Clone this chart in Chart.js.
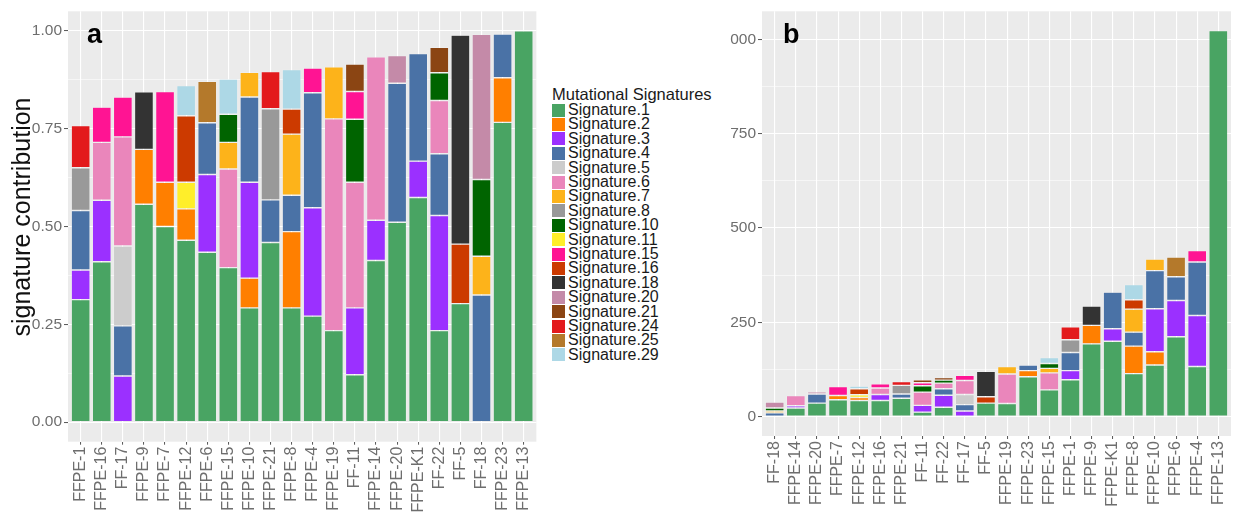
<!DOCTYPE html>
<html>
<head>
<meta charset="utf-8">
<script src="https://cdn.jsdelivr.net/npm/chart.js@4/dist/chart.umd.min.js"></script>
<style>
  html, body { margin: 0; padding: 0; background: #ffffff; }
  body { width: 1241px; height: 516px; position: relative; overflow: hidden;
         font-family: "Liberation Sans", Arial, sans-serif; }
  #wrapA { position: absolute; left: 0; top: 0; width: 545px; height: 516px; }
  #legend { position: absolute; left: 552px; top: 0; width: 180px; height: 516px; }
  #clipB { position: absolute; left: 730px; top: 0; width: 511px; height: 516px; overflow: hidden; }
  #wrapB { position: absolute; left: -10px; top: 0; width: 521px; height: 516px; }
  .ttl { position: absolute; left: 0; top: 86px; font-size: 16.5px; line-height: 16px; color: #1a1a1a; white-space: nowrap; }
  .key { position: absolute; left: 0; width: 13px; height: 13px; }
  .lab { position: absolute; left: 16px; font-size: 16px; line-height: 14px; color: #1a1a1a; white-space: nowrap; }
</style>
</head>
<body>
<div id="wrapA"><canvas id="chartA" width="545" height="516"></canvas></div>
<div id="legend"></div>
<div id="clipB"><div id="wrapB"><canvas id="chartB" width="521" height="516"></canvas></div></div>

<script>
// ---- samples (x-axis order of each panel) ----
const categoriesA = ['FFPE-1','FFPE-16','FF-17','FFPE-9','FFPE-7','FFPE-12','FFPE-6','FFPE-15','FFPE-10','FFPE-21','FFPE-8',
                     'FFPE-4','FFPE-19','FF-11','FFPE-14','FFPE-20','FFPE-K1','FF-22','FF-5','FF-18','FFPE-23','FFPE-13'];
const categoriesB = ['FF-18','FFPE-14','FFPE-20','FFPE-7','FFPE-12','FFPE-16','FFPE-21','FF-11','FF-22','FF-17','FF-5',
                     'FFPE-19','FFPE-23','FFPE-15','FFPE-1','FFPE-9','FFPE-K1','FFPE-8','FFPE-10','FFPE-6','FFPE-4','FFPE-13'];

// ---- signatures and their fill colours ----
const signatures = ['Signature.1','Signature.2','Signature.3','Signature.4','Signature.5','Signature.6','Signature.7','Signature.8',
                    'Signature.10','Signature.11','Signature.15','Signature.16','Signature.18','Signature.20','Signature.21',
                    'Signature.24','Signature.25','Signature.29'];
const sigColours = ['#49a463','#ff7f00','#9b30ff','#4a72a6','#cccccc','#ea86bb','#fdb31a','#999999',
                    '#006400','#ffee2a','#ff1493','#cc3a00','#333333','#c48aa8','#8b4513',
                    '#e31a1c','#b4792b','#add8e6'];

// ---- panel a: relative contribution of each signature ----
const a_s1  = [0.313,0.410,null,0.557,0.500, 0.465,0.434,0.395,0.292,0.459, 0.292,0.271,0.234,0.121,0.413, 0.511,0.574,0.234,0.303,null, 0.766,1.000];
const a_s2  = [null,null,null,0.140,0.113, 0.080,null,null,0.076,null, 0.195,null,null,null,null, null,null,null,null,null, 0.114,null];
const a_s3  = [0.076,0.157,0.118,null,null, null,0.199,null,0.245,null, null,0.277,null,0.171,0.103, null,0.093,0.294,null,null, null,null];
const a_s4  = [0.152,null,0.128,null,null, null,0.132,null,0.218,0.109, 0.093,0.294,null,null,null, 0.355,0.275,0.158,null,0.325, 0.112,null];
const a_s5  = [null,null,0.204,null,null, null,null,null,null,null, null,null,null,null,null, null,null,null,null,null, null,null];
const a_s6  = [null,0.148,0.279,null,null, null,null,0.252,null,null, null,null,0.541,0.321,0.418, null,null,0.136,null,null, null,null];
const a_s7  = [null,null,null,null,null, null,null,0.068,0.063,null, 0.156,null,0.133,null,null, null,null,null,null,0.099, null,null];
const a_s8  = [0.109,null,null,null,null, null,null,null,null,0.233, null,null,null,null,null, null,null,null,null,null, null,null];
const a_s10 = [null,null,null,null,null, null,null,0.072,null,null, null,null,null,0.161,null, null,null,0.071,null,0.196, null,null];
const a_s11 = [null,null,null,null,null, 0.068,null,null,null,null, null,null,null,null,null, null,null,null,null,null, null,null];
const a_s15 = [null,0.090,0.102,null,0.232, null,null,null,null,null, null,0.063,null,0.071,null, null,null,null,null,null, null,null];
const a_s16 = [null,null,null,null,null, 0.170,null,null,null,null, 0.064,null,null,null,null, null,null,null,0.152,null, null,null];
const a_s18 = [null,null,null,0.147,null, null,null,null,null,null, null,null,null,null,null, null,null,null,0.534,null, null,null];
const a_s20 = [null,null,null,null,null, null,null,null,null,null, null,null,null,null,null, 0.071,null,null,null,0.371, null,null];
const a_s21 = [null,null,null,null,null, null,null,null,null,null, null,null,null,0.070,null, null,null,0.065,null,null, null,null];
const a_s24 = [0.108,null,null,null,null, null,null,null,null,0.095, null,null,null,null,null, null,null,null,null,null, null,null];
const a_s25 = [null,null,null,null,null, null,0.106,null,null,null, null,null,null,null,null, null,null,null,null,null, null,null];
const a_s29 = [null,null,null,null,null, 0.077,null,0.090,null,null, 0.101,null,null,null,null, null,null,null,null,null, null,null];

// ---- panel b: mutation counts attributed to each signature ----
const b_s1  = [null,23,36,45,43, 43,49,12,25,null, 36,35,106,71,98, 193,200,114,137,212, 133,1023];
const b_s2  = [null,null,null,11,8, null,null,null,null,null, null,null,16,null,null, 49,null,73,35,null, null,null];
const b_s3  = [null,6,null,null,null, 16,null,18,32,15, null,null,null,null,24, null,33,null,114,96, 135,null];
const b_s4  = [10,null,24,null,null, null,11,null,17,17, null,null,15,null,48, null,97,37,101,63, 142,null];
const b_s5  = [null,null,null,null,null, null,null,null,null,27, null,null,null,null,null, null,null,null,null,null, null,null];
const b_s6  = [null,27,null,null,null, 17,null,35,15,37, null,78,null,45,null, null,null,null,null,null, null,null];
const b_s7  = [5,null,null,null,null, null,null,null,null,null, null,20,null,12,null, null,null,61,31,null, null,null];
const b_s8  = [null,null,null,null,null, null,23,null,null,null, null,null,null,null,34, null,null,null,null,null, null,null];
const b_s10 = [8,null,null,null,null, null,null,17,8,null, null,null,null,13,null, null,null,null,null,null, null,null];
const b_s11 = [null,null,null,null,7, null,null,null,null,null, null,null,null,null,null, null,null,null,null,null, null,null];
const b_s15 = [null,null,null,24,null, 11,null,8,null,14, null,null,null,null,null, null,null,null,null,null, 30,null];
const b_s16 = [null,null,null,null,16, null,null,null,null,null, 17,null,null,null,null, null,null,25,null,null, null,null];
const b_s18 = [null,null,null,null,null, null,null,null,null,null, 67,null,null,null,null, 51,null,null,null,null, null,null];
const b_s20 = [16,null,6,null,null, null,null,null,null,null, null,null,null,null,null, null,null,null,null,null, null,null];
const b_s21 = [null,null,null,null,null, null,null,8,7,null, null,null,null,null,null, null,null,null,null,null, null,null];
const b_s24 = [null,null,null,null,null, null,10,null,null,null, null,null,null,null,34, null,null,null,null,null, null,null];
const b_s25 = [null,null,null,null,null, null,null,null,null,null, null,null,null,null,null, null,null,null,null,52, null,null];
const b_s29 = [null,null,null,null,7, null,null,null,null,null, null,null,null,16,null, null,null,40,null,null, null,null];

const seriesA = [a_s1,a_s2,a_s3,a_s4,a_s5,a_s6,a_s7,a_s8,a_s10,a_s11,a_s15,a_s16,a_s18,a_s20,a_s21,a_s24,a_s25,a_s29];
const seriesB = [b_s1,b_s2,b_s3,b_s4,b_s5,b_s6,b_s7,b_s8,b_s10,b_s11,b_s15,b_s16,b_s18,b_s20,b_s21,b_s24,b_s25,b_s29];

// ---- y-axis grid and tick labels ----
const gridA = [0, 0.125, 0.25, 0.375, 0.5, 0.625, 0.75, 0.875, 1];
const ticksA = [0, 0.25, 0.5, 0.75, 1];
const tickLabelsA = ['0.00', '0.25', '0.50', '0.75', '1.00'];
const gridB = [0, 125, 250, 375, 500, 625, 750, 875, 1000];
const ticksB = [0, 250, 500, 750, 1000];
const tickLabelsB = ['0', '250', '500', '750', '1000'];

const FONT = '"Liberation Sans", Arial, sans-serif';

// grey panel background plus the panel tag and optional axis title
const panelDecor = {
  id: 'panelDecor',
  beforeDraw(chart) {
    const { ctx, chartArea: a } = chart;
    ctx.save();
    ctx.fillStyle = '#ebebeb';
    ctx.fillRect(a.left, a.top, a.right - a.left, a.bottom - a.top);
    ctx.restore();
  },
  afterDraw(chart, args, opts) {
    const ctx = chart.ctx;
    ctx.save();
    ctx.fillStyle = '#000000';
    ctx.font = 'bold 27px ' + FONT;
    ctx.textAlign = 'left';
    ctx.textBaseline = 'alphabetic';
    ctx.fillText(opts.tag, opts.tagX, opts.tagY);
    if (opts.title) {
      ctx.translate(opts.titleX, opts.titleY);
      ctx.rotate(-Math.PI / 2);
      ctx.font = '25px ' + FONT;
      ctx.fillStyle = '#111111';
      ctx.textAlign = 'center';
      ctx.textBaseline = 'middle';
      ctx.fillText(opts.title, 0, 0);
    }
    ctx.restore();
  }
};

function buildPanel(canvasId, cats, series, o) {
  const isMajor = v => o.major.indexOf(v) >= 0;
  return new Chart(document.getElementById(canvasId), {
    type: 'bar',
    data: {
      labels: cats.map((c, i) => i),
      datasets: signatures.map((name, k) => ({
        label: name,
        data: series[k],
        backgroundColor: sigColours[k],
        borderColor: 'rgba(255,255,255,0.3)',
        borderWidth: 0.7,
        borderSkipped: false,
        barPercentage: 0.9,
        categoryPercentage: 1.0
      }))
    },
    options: {
      responsive: false,
      animation: false,
      events: [],
      layout: { padding: o.padding },
      plugins: {
        legend: { display: false },
        tooltip: { enabled: false },
        panelDecor: o.decor
      },
      scales: {
        x: {
          type: 'linear',
          stacked: true,
          offset: false,
          min: -0.6,
          max: cats.length - 0.4,
          afterBuildTicks: s => { s.ticks = cats.map((c, i) => ({ value: i })); },
          afterFit: s => { s.height = o.xHeight; },
          border: { display: false },
          grid: { offset: false, color: '#ffffff', lineWidth: 1.1, tickColor: '#555555', tickLength: 3, tickWidth: 1 },
          ticks: {
            autoSkip: false, minRotation: 90, maxRotation: 90, padding: 2,
            color: '#6e6e6e', font: { family: FONT, size: 16 },
            callback: v => cats[v]
          }
        },
        y: {
          type: 'linear',
          stacked: true,
          min: o.yMin,
          max: o.yMax,
          afterBuildTicks: s => { s.ticks = o.grid.map(v => ({ value: v })); },
          afterFit: s => { s.width = o.yWidth; },
          border: { display: false },
          grid: {
            color: '#ffffff',
            lineWidth: c => (c.tick && isMajor(c.tick.value)) ? 1.1 : 0.55,
            tickColor: c => (c.tick && isMajor(c.tick.value)) ? '#555555' : 'rgba(0,0,0,0)',
            tickLength: 4,
            tickWidth: 1
          },
          ticks: {
            padding: 2, color: '#6e6e6e', font: { family: FONT, size: 15.5 },
            callback: v => { const i = o.major.indexOf(v); return i >= 0 ? o.labels[i] : ''; }
          }
        }
      }
    },
    plugins: [panelDecor]
  });
}

buildPanel('chartA', categoriesA, seriesA, {
  padding: { left: 0, right: 4, top: 8, bottom: 0 },
  yWidth: 68, xHeight: 74.3,
  yMin: -0.05, yMax: 1.05,
  grid: gridA, major: ticksA, labels: tickLabelsA,
  decor: { tag: 'a', tagX: 87, tagY: 43, title: 'signature contribution', titleX: 23, titleY: 217 }
});

buildPanel('chartB', categoriesB, seriesB, {
  padding: { left: 0, right: 10, top: 3, bottom: 0 },
  yWidth: 42, xHeight: 80,
  yMin: -51.15, yMax: 1074.15,
  grid: gridB, major: ticksB, labels: tickLabelsB,
  decor: { tag: 'b', tagX: 63, tagY: 43 }
});

// ---- legend for the signatures ----
(function () {
  const box = document.getElementById('legend');
  const t = document.createElement('div');
  t.className = 'ttl';
  t.textContent = 'Mutational Signatures';
  box.appendChild(t);
  signatures.forEach((name, k) => {
    const top = 103.5 + k * 14.4;
    const key = document.createElement('div');
    key.className = 'key';
    key.style.top = top + 'px';
    key.style.background = sigColours[k];
    box.appendChild(key);
    const lab = document.createElement('div');
    lab.className = 'lab';
    lab.style.top = (top - 0.5) + 'px';
    lab.textContent = name;
    box.appendChild(lab);
  });
})();
</script>
</body>
</html>
